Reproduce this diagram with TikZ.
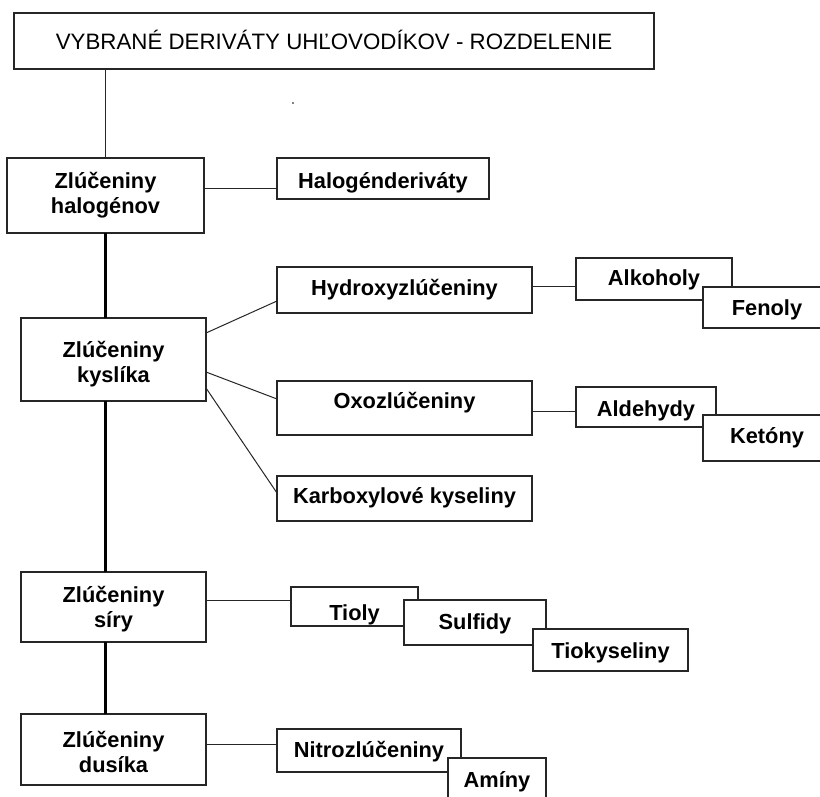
\documentclass[tikz,border=0pt]{standalone}
\usepackage{fontspec}
\setmainfont{Liberation Sans}
\begin{document}
\begin{tikzpicture}[x=1pt,y=-1pt,
  box/.style={draw=black!85, line width=1.2pt, fill=white, inner sep=0pt, outer sep=0pt,
    font=\fontsize{21.8}{25}\selectfont\bfseries},
  conn/.style={line width=1pt, black!85},
  trunk/.style={line width=2.6pt, black}]
\useasboundingbox (0,0) rectangle (820,796);
\clip (0,0) rectangle (820,796);
\fill[white] (0,0) rectangle (820,796);
\setlength\tabcolsep{0pt}

% title
\node[box, font=\fontsize{22.3}{26}\selectfont, minimum width=640pt, minimum height=56pt,
  text height=16pt, text depth=0pt] (title) at (334,41) {VYBRANÉ DERIVÁTY UHĽOVODÍKOV - ROZDELENIE};

% main groups
\node[box, minimum width=197pt, minimum height=75pt, text height=5pt, text depth=20pt]
  (halo) at (105.5,195.5) {\begin{tabular}[t]{c}Zlúčeniny\\halogénov\end{tabular}};
\node[box, minimum width=185pt, minimum height=83pt, text height=10pt, text depth=15pt]
  (kys) at (113.5,359.5) {\begin{tabular}[t]{c}Zlúčeniny\\kyslíka\end{tabular}};
\node[box, minimum width=185pt, minimum height=70pt, text height=5pt, text depth=15pt]
  (sir) at (113.5,607) {\begin{tabular}[t]{c}Zlúčeniny\\síry\end{tabular}};
\node[box, minimum width=185pt, minimum height=71pt, text height=10pt, text depth=15pt]
  (dus) at (113.5,749.5) {\begin{tabular}[t]{c}Zlúčeniny\\dusíka\end{tabular}};

% second level
\node[box, minimum width=212pt, minimum height=41pt, text height=19pt, text depth=0pt]
  (halder) at (383,178.5) {Halogénderiváty};
\node[box, minimum width=255pt, minimum height=46pt, text height=14pt, text depth=4pt]
  (hyd) at (404.5,290) {Hydroxyzlúčeniny};
\node[box, minimum width=255pt, minimum height=54pt, text height=10pt, text depth=10pt]
  (oxo) at (404.5,408) {Oxozlúčeniny};
\node[box, minimum width=255pt, minimum height=45pt, text height=13pt, text depth=4pt]
  (karb) at (404.5,498.5) {Karboxylové kyseliny};

% third level
\node[box, minimum width=156pt, minimum height=42pt, text height=16pt, text depth=4pt]
  (alk) at (654,279) {Alkoholy};
\node[box, minimum width=128pt, minimum height=41pt, text height=19pt, text depth=4pt]
  (fen) at (767,307.5) {Fenoly};
\node[box, minimum width=140pt, minimum height=40pt, text height=22pt, text depth=4pt]
  (ald) at (646,407) {Aldehydy};
\node[box, minimum width=128pt, minimum height=46pt, text height=14pt, text depth=4pt]
  (ket) at (767,438) {Ketóny};

\node[box, minimum width=127pt, minimum height=39pt, text height=31pt, text depth=4pt]
  (tio) at (354.5,606.5) {Tioly};
\node[box, minimum width=142pt, minimum height=45pt, text height=17pt, text depth=4pt]
  (sul) at (475,622.5) {Sulfidy};
\node[box, minimum width=155pt, minimum height=42pt, text height=20pt, text depth=4pt]
  (tiok) at (610.5,650) {Tiokyseliny};

\node[box, minimum width=184pt, minimum height=43pt, text height=17pt, text depth=4pt]
  (nit) at (369,750.5) {Nitrozlúčeniny};
\node[box, minimum width=98pt, minimum height=52pt, text height=10pt, text depth=4pt]
  (ami) at (497,784) {Amíny};

% connectors
\draw[conn] (title.south -| halo.north) -- (halo.north);
\draw[conn] ([yshift=7.5pt]halo.east) -- ([yshift=7.5pt]halo.east -| halder.west);
\draw[trunk] (halo.south) -- (halo.south |- kys.north);
\draw[trunk] (halo.south |- kys.south) -- (halo.south |- sir.north);
\draw[trunk] (halo.south |- sir.south) -- (halo.south |- dus.north);

\draw[conn] ([yshift=26.5pt]kys.east) -- ([yshift=-11pt]hyd.west);
\draw[conn] ([yshift=-12.5pt]kys.east) -- ([yshift=9pt]oxo.west);
\draw[conn] ([yshift=-28.5pt]kys.east) -- ([yshift=5.5pt]karb.west);

\draw[conn] ([yshift=4pt]hyd.east) -- ([yshift=4pt]hyd.east -| alk.west);
\draw[conn] ([yshift=-3pt]oxo.east) -- ([yshift=-3pt]oxo.east -| ald.west);
\draw[conn] ([yshift=7pt]sir.east) -- ([yshift=7pt]sir.east -| tio.west);
\draw[conn] ([yshift=5.5pt]dus.east) -- ([yshift=5.5pt]dus.east -| nit.west);

% stray dot
\fill (293,103) circle (0.8pt);
\end{tikzpicture}
\end{document}
